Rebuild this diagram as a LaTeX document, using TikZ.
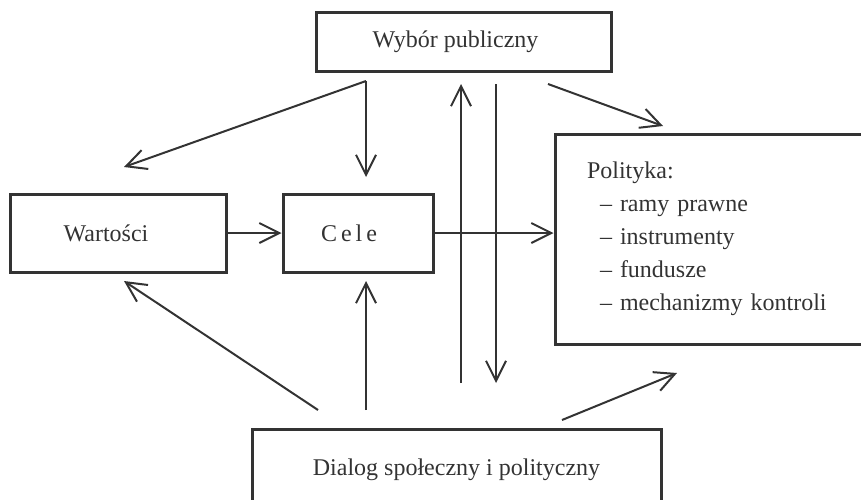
\documentclass[tikz,border=0pt]{standalone}
\usepackage{fontspec}
\setmainfont{Liberation Serif}
\usetikzlibrary{arrows.meta,calc,positioning}
\definecolor{ink}{HTML}{333333}

\begin{document}
\begin{tikzpicture}[x=0.5pt,y=-0.5pt,
  every node/.style={font=\fontsize{12}{16.5}\selectfont, text=ink},
  box/.style={draw=ink, line width=1.5pt, rectangle, inner sep=0pt},
  link/.style={draw=ink, line width=1pt, -{Straight Barb[length=10pt,width=10pt]}}]
\useasboundingbox (0,0) rectangle (861,499);
\clip (0,0) rectangle (861,499);
% boxes
\node[box, minimum width=147.5pt, minimum height=29.5pt] (wybor) at (463.5,41.5) {\hspace*{-8pt}Wybór publiczny};
\node[box, minimum width=108pt, minimum height=39pt] (wart) at (118,233) {\hspace*{-12pt}Wartości};
\node[box, minimum width=75pt, minimum height=39pt] (cele) at (358,233) {\hspace*{-9pt}C\,e\,l\,e};
\node[box, minimum width=172.5pt, minimum height=105pt, inner xsep=16pt,
      text width=140.5pt, align=left] (polit) at (727.5,239)
  {Polityka:\\
   \hspace*{6.5pt}– ramy prawne\\
   \hspace*{6.5pt}– instrumenty\\
   \hspace*{6.5pt}– fundusze\\
   \hspace*{6.5pt}– mechanizmy kontroli};
\node[box, minimum width=204.5pt, minimum height=41pt] (dialog) at (456.5,470) {Dialog społeczny i polityczny};
% free ends
\coordinate (wyb-l) at (366,81);
\coordinate (wyb-up) at (461,84);
\coordinate (wyb-dn) at (496,84);
\coordinate (wyb-r) at (548,84);
\coordinate (wart-top) at (124,167);
\coordinate (wart-bot) at (124,281);
\coordinate (cele-top) at (366,177);
\coordinate (cele-bot) at (366,281);
\coordinate (pol-top) at (663,126);
\coordinate (pol-bot) at (677,373);
\coordinate (dia-l) at (318,410);
\coordinate (dia-m) at (366,410);
\coordinate (dia-up) at (461,383);
\coordinate (dia-dn) at (496,383);
\coordinate (dia-r) at (562,420);
% arrows
\draw[link] (wart) -- (cele);
\draw[link] (cele.east) -- (cele.east -| polit.west);
\draw[link] (wyb-l) -- (wart-top);
\draw[link] (wyb-l) -- (cele-top);
\draw[link] (wyb-r) -- (pol-top);
\draw[link] (dia-up) -- (wyb-up);
\draw[link] (wyb-dn) -- (dia-dn);
\draw[link] (dia-l) -- (wart-bot);
\draw[link] (dia-m) -- (cele-bot);
\draw[link] (dia-r) -- (pol-bot);
\end{tikzpicture}
\end{document}
